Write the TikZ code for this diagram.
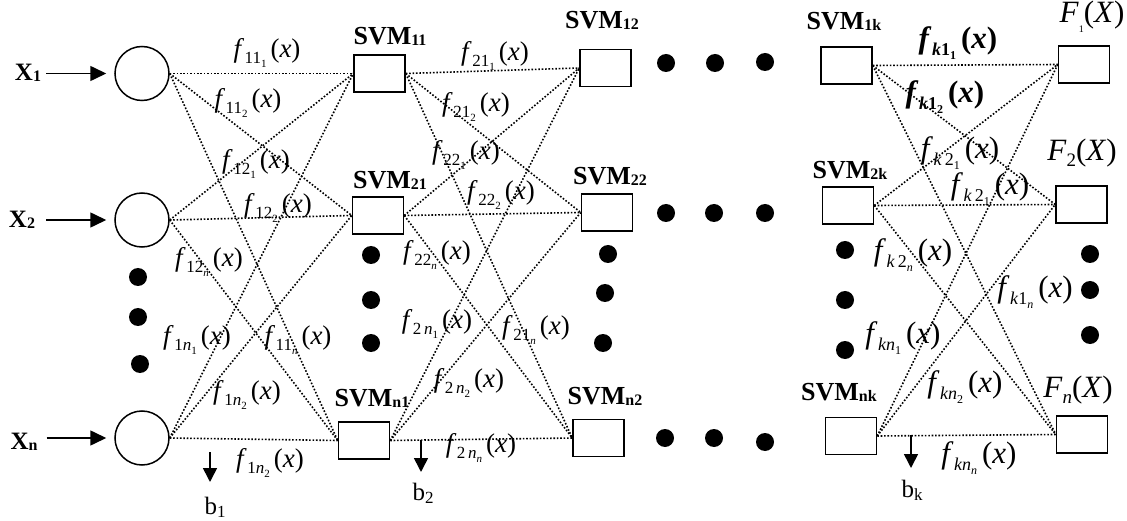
\documentclass[tikz,border=0pt]{standalone}
\usepackage{fontspec}
\setmainfont{Liberation Serif}
\usetikzlibrary{arrows.meta}
\newcommand{\ffA}[2]{{\fontsize{27}{29}\selectfont\textit{f}\kern0.5pt\raisebox{-6pt}{\fontsize{17}{17}\selectfont #1\raisebox{-4pt}{\fontsize{11}{11}\selectfont #2}}\kern4pt(\textit{x})}}
\newcommand{\ffB}[2]{{\fontsize{31}{33}\selectfont\textit{f}\kern0.5pt\raisebox{-7pt}{\fontsize{18}{18}\selectfont #1\raisebox{-4pt}{\fontsize{12}{12}\selectfont #2}}\kern5pt(\textit{x})}}
\newcommand{\ffBb}[2]{{\bfseries\ffB{#1}{#2}}}
\newcommand{\svm}[1]{{\fontsize{26}{28}\selectfont\bfseries SVM\raisebox{-1pt}{\fontsize{16}{16}\selectfont #1}}}
\newcommand{\xin}[1]{{\fontsize{25}{27}\selectfont\bfseries X\raisebox{-1pt}{\fontsize{16}{16}\selectfont #1}}}
\newcommand{\Fout}[1]{{\fontsize{31}{33}\selectfont\textit{F}\raisebox{-6pt}{\fontsize{19}{19}\selectfont #1}(\textit{X})}}
\newcommand{\blab}[1]{{\fontsize{25}{27}\selectfont b\raisebox{-3pt}{\fontsize{17}{17}\selectfont #1}}}
\begin{document}
\begin{tikzpicture}[x=1pt,y=-1pt,
  box/.style={draw,line width=1.5pt,minimum width=51pt,minimum height=37pt,inner sep=0pt},
  inp/.style={draw,circle,line width=1.5pt,minimum size=54pt,inner sep=0pt},
  link/.style={line width=1.6pt,dash pattern=on 1.6pt off 1.8pt},
  blob/.style={circle,fill,minimum size=18pt,inner sep=0pt},
  lab/.style={inner sep=0pt},
  arr/.style={line width=1.6pt,-{Triangle[length=16pt,width=15pt]}},
  barr/.style={line width=1.6pt,-{Triangle[length=14pt,width=14pt]}}]
\useasboundingbox (0,0) rectangle (1127,521);
% inputs
\node[inp] (c1) at (142,73.5) {};
\node[inp] (c2) at (142,220) {};
\node[inp] (cn) at (142,438) {};
\node[lab] (x1) at (28,73) {\xin{1}};
\node[lab] (x2) at (22,220) {\xin{2}};
\node[lab] (xn) at (24,442) {\xin{n}};
\draw[arr] ([xshift=5pt]x1.east |- c1.west) -- ([xshift=-8pt]c1.west);
\draw[arr] ([xshift=11pt]x2.east |- c2.west) -- ([xshift=-8pt]c2.west);
\draw[arr] ([xshift=9pt]xn.east |- cn.west) -- ([xshift=-8pt]cn.west);
% boxes
\node[box] (s11) at (379.5,73.5) {};
\node[box] (s21) at (378,215.5) {};
\node[box] (sn1) at (364,440.5) {};
\node[box] (s12) at (605.5,68) {};
\node[box] (s22) at (607,212.5) {};
\node[box] (sn2) at (598.5,438) {};
\node[box] (s1k) at (846.5,65.5) {};
\node[box] (s2k) at (848,205.5) {};
\node[box] (snk) at (851,436) {};
\node[box] (F1) at (1084,64.5) {};
\node[box] (F2) at (1081.5,204.5) {};
\node[box] (Fn) at (1082,434.5) {};
% box labels
\node[lab] (l11) at (390,36) {\svm{11}};
\node[lab] (l21) at (390,180) {\svm{21}};
\node[lab] (ln1) at (372,398) {\svm{n1}};
\node[lab] (l12) at (602,20) {\svm{12}};
\node[lab] (l22) at (610,176) {\svm{22}};
\node[lab] (ln2) at (605,396) {\svm{n2}};
\node[lab] (l1k) at (844,21) {\svm{1k}};
\node[lab] (l2k) at (850,170) {\svm{2k}};
\node[lab] (lnk) at (839,392) {\svm{nk}};
\node[lab] (lF1) at (1092,17) {\Fout{\fontsize{10}{10}\selectfont\raisebox{-4pt}{1}}};
\node[lab] (lF2) at (1082,153) {\Fout{2}};
\node[lab] (lFn) at (1078,390) {\Fout{\textit{n}}};
% links
\foreach \a in {c1,c2,cn}{\foreach \b in {s11,s21,sn1}{\draw[link] (\a.east) -- (\b.west);}}
\foreach \a in {s11,s21,sn1}{\foreach \b in {s12,s22,sn2}{\draw[link] (\a.east) -- (\b.west);}}
\foreach \a in {s1k,s2k,snk}{\foreach \b in {F1,F2,Fn}{\draw[link] (\a.east) -- (\b.west);}}
% dots
\foreach \p [count=\i] in {(666,63),(715,63),(765,62),(666,213),(714,213),(765,213),(665,438),(714,438),(765,442),
  (138,277),(138,317),(140,364),(371,255),(371,300),(371,343),(608,254),(605,293),(603,343),
  (845,250),(845,300),(845,350),(1090,254),(1090,290),(1090,335)}
  {\node[blob] (d\i) at \p {};}
% bias arrows
\coordinate (b1s) at (210,452); \coordinate (b1e) at (210,482);
\coordinate (b2s) at (421,440); \coordinate (b2e) at (421,472);
\coordinate (bks) at (911,435); \coordinate (bke) at (911,468);
\draw[barr] (b1s) -- (b1e);
\draw[barr] (b2s) -- (b2e);
\draw[barr] (bks) -- (bke);
\node[lab] (lb1) at (215,507) {\blab{1}};
\node[lab] (lb2) at (423,493) {\blab{2}};
\node[lab] (lbk) at (912,490) {\blab{k}};
% stage 1 labels
\node[lab] (f1) at (267,53) {\ffA{11}{1}};
\node[lab] (f2) at (248,103) {\ffA{11}{2}};
\node[lab] (f3) at (256,164) {\ffA{12}{1}};
\node[lab] (f4) at (278,208) {\ffA{12}{2}};
\node[lab] (f5) at (209,262) {\ffA{12}{\textit{n}}};
\node[lab] (f6) at (197,340) {\ffA{1\textit{n}}{1}};
\node[lab] (f7) at (298,340) {\ffA{11}{\textit{n}}};
\node[lab] (f8) at (247,395) {\ffA{1\textit{n}}{2}};
\node[lab] (f9) at (270,463) {\ffA{1\textit{n}}{2}};
% stage 2 labels
\node[lab] (g1) at (495,56) {\ffA{21}{1}};
\node[lab] (g2) at (476,107) {\ffA{21}{2}};
\node[lab] (g3) at (466,155) {\ffA{22}{1}};
\node[lab] (g4) at (501,195) {\ffA{22}{2}};
\node[lab] (g5) at (437,255) {\ffA{22}{\textit{n}}};
\node[lab] (g6) at (437,324) {\ffA{2\,\textit{n}}{1}};
\node[lab] (g7) at (536,330) {\ffA{21}{\textit{n}}};
\node[lab] (g8) at (469,383) {\ffA{2\,\textit{n}}{2}};
\node[lab] (g9) at (481,448) {\ffA{2\,\textit{n}}{\textit{n}}};
% stage k labels
\node[lab] (h1) at (958,43) {\ffBb{\textit{k}1}{1}};
\node[lab] (h2) at (945,97) {\ffBb{\textit{k}1}{2}};
\node[lab] (h3) at (960,153) {\ffB{\textit{k}\,2}{1}};
\node[lab] (h4) at (990,189) {\ffB{\textit{k}\,2}{1}};
\node[lab] (h5) at (913,255) {\ffB{\textit{k}\,2}{\textit{n}}};
\node[lab] (h6) at (1035,292) {\ffB{\textit{k}1}{\textit{n}}};
\node[lab] (h7) at (903,338) {\ffB{\textit{kn}}{1}};
\node[lab] (h8) at (965,387) {\ffB{\textit{kn}}{2}};
\node[lab] (h9) at (979,458) {\ffB{\textit{kn}}{\textit{n}}};
\end{tikzpicture}
\end{document}
